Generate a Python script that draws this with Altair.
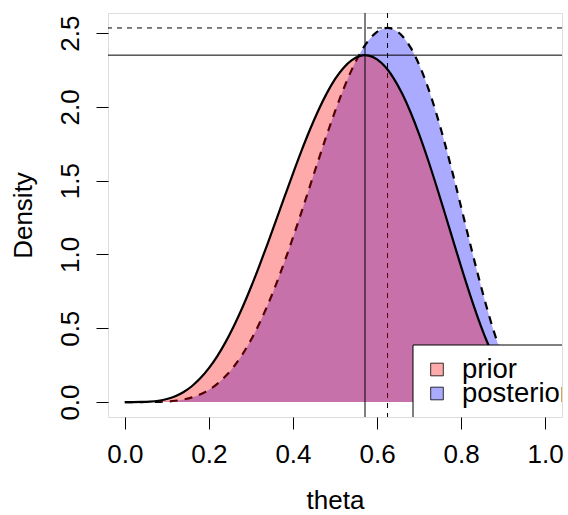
import altair as alt
import pandas as pd

# values
theta = [0.00, 0.02, 0.04, 0.06, 0.08, 0.10, 0.12, 0.14, 0.16, 0.18,
         0.20, 0.22, 0.24, 0.26, 0.28, 0.30, 0.32, 0.34, 0.36, 0.38,
         0.40, 0.42, 0.44, 0.46, 0.48, 0.50, 0.52, 0.54, 0.56, 0.57,
         0.58, 0.60, 0.62, 0.625, 0.64, 0.66, 0.68, 0.70, 0.72, 0.74,
         0.76, 0.78, 0.80, 0.82, 0.84, 0.86, 0.88, 0.90, 0.92, 0.94,
         0.96, 0.98, 1.00]
prior = [0.0, 0.0000, 0.0006, 0.0030, 0.0089, 0.0204, 0.0396, 0.0684, 0.1088, 0.1621,
         0.2294, 0.3113, 0.4078, 0.5185, 0.6424, 0.7779, 0.9232, 1.0757, 1.2328, 1.3914,
         1.5483, 1.7000, 1.8430, 1.9741, 2.0899, 2.1875, 2.2641, 2.3174, 2.3457, 2.3500,
         2.3476, 2.3224, 2.2703, 2.2530, 2.1917, 2.0882, 1.9618, 1.8152, 1.6518, 1.4757,
         1.2914, 1.1036, 0.9175, 0.7383, 0.5710, 0.4203, 0.2902, 0.1837, 0.1027, 0.0472,
         0.0152, 0.0021, 0.0]
posterior = [0.0, 0.0000, 0.0000, 0.0003, 0.0013, 0.0037, 0.0085, 0.0172, 0.0313, 0.0525,
             0.0826, 0.1233, 0.1762, 0.2427, 0.3238, 0.4201, 0.5318, 0.6584, 0.7989, 0.9518,
             1.1148, 1.2852, 1.4597, 1.6346, 1.8057, 1.9688, 2.1192, 2.2525, 2.3644, 2.4111,
             2.4509, 2.5082, 2.5336, 2.5347, 2.5249, 2.4808, 2.4012, 2.2871, 2.1408, 1.9657,
             1.7666, 1.5494, 1.3212, 1.0897, 0.8634, 0.6506, 0.4596, 0.2976, 0.1701, 0.0799,
             0.0263, 0.0036, 0.0]

prior_mode, prior_max = 0.5714, 2.3505
post_mode, post_max = 0.625, 2.5347

legend_labels = ["prior", "posterior"]
legend_colors = ["#FFAAAA", "#AAAAFF"]

x_ticks = [0.0, 0.2, 0.4, 0.6, 0.8, 1.0]
y_ticks = [0.0, 0.5, 1.0, 1.5, 2.0, 2.5]

FONT = "Liberation Sans"
FS = 26
LFS = 27.5

prior_df = pd.DataFrame({"theta": theta, "dens": prior, "base": [0.0] * len(theta)})
post_df = pd.DataFrame({"theta": theta, "dens": posterior, "base": [0.0] * len(theta)})

xs = alt.Scale(domain=[-0.04, 1.04], nice=False, zero=False)
ys = alt.Scale(domain=[-0.1014, 2.6361], nice=False, zero=False)

xaxis = alt.Axis(values=x_ticks, format=".1f", tickSize=12, tickColor="black", tickWidth=1,
                 labelPadding=33, labelBaseline="alphabetic", labelFontSize=FS, labelFont=FONT,
                 labelColor="black", labelFlush=False, labelOverlap=False,
                 title="theta", titleFont=FONT, titleFontSize=FS, titleFontWeight="normal",
                 titleColor="black", titleBaseline="alphabetic", titleY=91, titleX=227,
                 domain=False, grid=False)
yaxis = alt.Axis(values=y_ticks, format=".1f", tickSize=12, tickColor="black", tickWidth=1,
                 labelPadding=18, labelAngle=270, labelAlign="center", labelBaseline="alphabetic",
                 labelFontSize=FS, labelFont=FONT, labelColor="black", labelFlush=False,
                 labelOverlap=False,
                 title="Density", titleFont=FONT, titleFontSize=FS, titleFontWeight="normal",
                 titleColor="black", titleAngle=270, titleAlign="center",
                 titleBaseline="alphabetic", titleX=-77, titleY=202,
                 domain=False, grid=False)

X = alt.X("theta:Q", scale=xs, axis=xaxis)
Y = alt.Y("dens:Q", scale=ys, axis=yaxis)

post_area = alt.Chart(post_df).mark_area(
    color="#0000FF", opacity=1 / 3, interpolate="monotone", clip=True
).encode(x=X, y=Y, y2="base:Q")
post_line = alt.Chart(post_df).mark_line(
    color="black", strokeWidth=2.2, strokeDash=[8, 7], interpolate="monotone", clip=True
).encode(x=X, y=Y)

post_v = alt.Chart(pd.DataFrame({"theta": [post_mode]})).mark_rule(
    color="black", strokeWidth=1, strokeDash=[5, 5], clip=True).encode(x=X)
post_h = alt.Chart(pd.DataFrame({"dens": [post_max]})).mark_rule(
    color="black", strokeWidth=1, strokeDash=[5, 5], clip=True).encode(y=Y)

prior_area = alt.Chart(prior_df).mark_area(
    color="#FF0000", opacity=1 / 3, interpolate="monotone", clip=True
).encode(x=X, y=Y, y2="base:Q")
prior_line = alt.Chart(prior_df).mark_line(
    color="black", strokeWidth=2.2, interpolate="monotone", clip=True
).encode(x=X, y=Y)

prior_v = alt.Chart(pd.DataFrame({"theta": [prior_mode]})).mark_rule(
    color="black", strokeWidth=1, clip=True).encode(x=X)
prior_h = alt.Chart(pd.DataFrame({"dens": [prior_max]})).mark_rule(
    color="black", strokeWidth=1, clip=True).encode(y=Y)

# legend box (bottom right, clipped by the plot frame)
leg_box = alt.Chart(pd.DataFrame({"k": [0]})).mark_rect(
    fill="white", stroke="black", strokeWidth=1, clip=True
).encode(x=alt.value(305), x2=alt.value(455), y=alt.value(332), y2=alt.value(405))

leg_layers = []
for i, (lab, col) in enumerate(zip(legend_labels, legend_colors)):
    d = pd.DataFrame({"label": [lab]})
    leg_layers.append(
        alt.Chart(d).mark_point(shape="square", size=160, filled=True, fill=col,
                                stroke="black", strokeWidth=0.8, opacity=1)
        .encode(x=alt.value(329), y=alt.value(356.5 + 24 * i))
    )
    leg_layers.append(
        alt.Chart(d).mark_text(align="left", baseline="alphabetic", font=FONT, fontSize=LFS,
                               color="black", clip=True)
        .encode(text="label:N", x=alt.value(354), y=alt.value(364.5 + 24 * i))
    )

chart = alt.layer(
    post_area, post_line, post_v, post_h,
    prior_area, prior_line, prior_v, prior_h,
    leg_box, *leg_layers
).properties(
    width=454, height=404,
    autosize=alt.AutoSizeParams(type="none"),
    padding={"left": 108, "top": 13, "right": 6, "bottom": 98},
).configure_view(stroke="black", strokeWidth=1, fill="white").configure(background="white")

chart.save("out.html", embed_options={"renderer": "svg", "actions": False})
